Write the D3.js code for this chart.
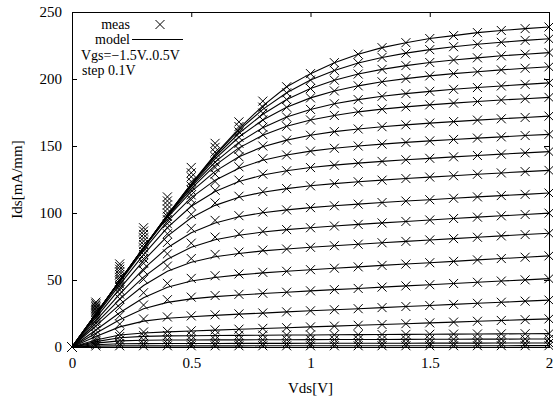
<!DOCTYPE html>
<html>
<head>
<meta charset="utf-8">
<script src="https://cdn.jsdelivr.net/npm/d3@7"></script>
<style>
  html, body { margin: 0; padding: 0; background: #fff; }
  svg text { font-family: "Liberation Serif", "Times New Roman", serif; font-size: 15px; fill: #000; }
  svg text.key { font-size: 14px; }
</style>
</head>
<body>
<svg id="chart" width="553" height="401"></svg>
<script>
// Vds sweep points (V)
const vds = [0, 0.1, 0.2, 0.3, 0.4, 0.5, 0.6, 0.7, 0.8, 0.9, 1.0, 1.1, 1.2, 1.3, 1.4, 1.5, 1.6, 1.7, 1.8, 1.9, 2.0];

// Vgs of each curve, top to bottom (V)
const vgs = [0.5, 0.4, 0.3, 0.2, 0.1, 0.0, -0.1, -0.2, -0.3, -0.4, -0.5, -0.6, -0.7, -0.8, -0.9, -1.0, -1.1, -1.2, -1.3, -1.4, -1.5];

// model Ids [mA/mm], one row per Vgs
const modelIds = [
  [0, 24.5, 49.3, 73.9, 98.4, 121.7, 143.7, 163, 180, 194.2, 204, 212.2, 218.5, 223.4, 227.1, 230.2, 232.4, 234.6, 236.2, 237.6, 238.8],
  [0, 24.6, 49.3, 74, 98.4, 121.6, 143, 161.8, 177.3, 189.7, 199.2, 206.4, 211.9, 216.1, 219.3, 221.9, 224.1, 225.9, 227.4, 228.8, 230],
  [0, 24.6, 49.4, 74.1, 98.3, 121.3, 141.9, 159.5, 173.7, 184.7, 192.9, 199.1, 203.7, 207.2, 210, 212.3, 214.2, 215.8, 217.3, 218.5, 219.7],
  [0, 24.6, 49.4, 74.1, 98.2, 120.6, 140.4, 156.7, 169.4, 178.9, 185.9, 191.1, 194.9, 197.9, 200.3, 202.3, 204, 205.4, 206.8, 208, 209.1],
  [0, 24.6, 49.4, 74.1, 97.9, 119.6, 138, 152.7, 163.7, 171.6, 177.3, 181.5, 184.6, 187.1, 189.1, 190.8, 192.3, 193.6, 194.8, 196, 197.1],
  [0, 24.6, 49.4, 74, 97.3, 118.2, 135.5, 148.6, 158, 164.7, 169.4, 172.8, 175.5, 177.5, 179.2, 180.7, 182, 183.2, 184.3, 185.3, 186.3],
  [0, 24.6, 49.4, 73.8, 96.5, 116, 131.1, 142, 149.4, 154.4, 158, 160.7, 162.7, 164.4, 165.8, 167.1, 168.2, 169.3, 170.3, 171.3, 172.3],
  [0, 24.1, 48.4, 72.1, 93.7, 111.5, 124.5, 133.4, 139.4, 143.3, 146.2, 148.3, 150, 151.4, 152.7, 153.8, 154.9, 155.9, 156.8, 157.8, 158.7],
  [0, 23.2, 46.5, 69, 89.1, 105, 116.1, 123.5, 128.3, 131.5, 133.9, 135.7, 137.2, 138.5, 139.7, 140.8, 141.9, 142.9, 143.9, 144.9, 145.8],
  [0, 21.7, 43.5, 64.5, 82.7, 96.4, 105.7, 111.7, 115.5, 118.2, 120.3, 121.9, 123.3, 124.5, 125.7, 126.8, 127.8, 128.9, 129.9, 130.9, 131.8],
  [0, 19.7, 39.5, 58.3, 74.1, 85.3, 92.6, 97.2, 100.2, 102.3, 104, 105.4, 106.6, 107.8, 108.9, 109.9, 111, 112, 113, 113.9, 114.9],
  [0, 17.7, 35.6, 52.2, 65.5, 74.5, 80, 83.4, 85.8, 87.6, 89, 90.3, 91.5, 92.6, 93.7, 94.8, 95.9, 96.9, 97.9, 98.9, 99.9],
  [0, 15.7, 31.6, 45.9, 56.6, 63.3, 67.3, 69.8, 71.7, 73.1, 74.4, 75.6, 76.7, 77.8, 78.8, 79.9, 80.9, 81.9, 82.9, 83.9, 84.9],
  [0, 12.7, 25.6, 36.8, 44.6, 49.2, 51.9, 53.8, 55.3, 56.5, 57.7, 58.8, 59.8, 60.9, 61.9, 62.9, 63.9, 65, 66, 67, 68],
  [0, 10.3, 20.4, 28.5, 33.3, 35.9, 37.6, 38.8, 39.9, 40.9, 41.9, 42.8, 43.7, 44.7, 45.6, 46.5, 47.4, 48.3, 49.2, 50.1, 51],
  [0, 7.8, 15, 19.3, 21.4, 22.6, 23.6, 24.5, 25.3, 26.2, 27, 27.8, 28.6, 29.4, 30.2, 31, 31.8, 32.6, 33.4, 34.2, 35],
  [0, 5.2, 9, 10.5, 11.3, 11.9, 12.6, 13.2, 13.8, 14.4, 15, 15.6, 16.2, 16.8, 17.4, 18, 18.6, 19.2, 19.8, 20.4, 21],
  [0, 4, 6.9, 7.9, 8.3, 8.4, 8.6, 8.7, 8.8, 8.9, 9, 9.1, 9.2, 9.3, 9.4, 9.5, 9.6, 9.7, 9.8, 9.9, 10],
  [0, 2.9, 4.6, 5, 5.2, 5.2, 5.3, 5.35, 5.4, 5.45, 5.5, 5.55, 5.6, 5.65, 5.7, 5.75, 5.8, 5.85, 5.9, 5.95, 6],
  [0, 1.7, 2.4, 2.55, 2.59, 2.62, 2.65, 2.67, 2.7, 2.72, 2.75, 2.77, 2.8, 2.82, 2.85, 2.87, 2.9, 2.92, 2.95, 2.97, 3],
  [0, 0.68, 0.81, 0.83, 0.84, 0.85, 0.86, 0.87, 0.88, 0.89, 0.9, 0.91, 0.92, 0.93, 0.94, 0.95, 0.96, 0.97, 0.98, 0.99, 1]
];

// measured Ids [mA/mm], one row per Vgs
const measIds = [
  [0, 33.5, 62, 89, 112, 134, 152, 168, 183.5, 194.2, 204, 212.2, 218.5, 223.4, 227.1, 230.2, 232.4, 234.6, 236.2, 237.6, 238.8],
  [0, 32.3, 60, 86.5, 109, 130, 149, 164.5, 179, 189.7, 199.2, 206.4, 211.9, 216.1, 219.3, 221.9, 224.1, 225.9, 227.4, 228.8, 230],
  [0, 31.1, 58, 84, 106, 127, 145.5, 160.5, 174.5, 184.7, 192.9, 199.1, 203.7, 207.2, 210, 212.3, 214.2, 215.8, 217.3, 218.5, 219.7],
  [0, 30, 56, 81.5, 103, 123.5, 142, 156.5, 169.5, 178.9, 185.9, 191.1, 194.9, 197.9, 200.3, 202.3, 204, 205.4, 206.8, 208, 209.1],
  [0, 28.9, 54, 79, 100, 120, 138, 152, 164, 171.6, 177.3, 181.5, 184.6, 187.1, 189.1, 190.8, 192.3, 193.6, 194.8, 196, 197.1],
  [0, 27.8, 52, 76.5, 97.5, 117, 134, 147.5, 158.5, 164.7, 169.4, 172.8, 175.5, 177.5, 179.2, 180.7, 182, 183.2, 184.3, 185.3, 186.3],
  [0, 26.7, 50.5, 74, 95, 113.5, 129, 142, 150, 154.4, 158, 160.7, 162.7, 164.4, 165.8, 167.1, 168.2, 169.3, 170.3, 171.3, 172.3],
  [0, 25.6, 49, 71.5, 92, 110, 123.5, 134.5, 140.5, 143.3, 146.2, 148.3, 150, 151.4, 152.7, 153.8, 154.9, 155.9, 156.8, 157.8, 158.7],
  [0, 24.4, 47, 69, 89, 105.5, 117, 124.5, 129, 131.5, 133.9, 135.7, 137.2, 138.5, 139.7, 140.8, 141.9, 142.9, 143.9, 144.9, 145.8],
  [0, 23, 45, 66, 84.5, 99, 107.5, 112.5, 116, 118.2, 120.3, 121.9, 123.3, 124.5, 125.7, 126.8, 127.8, 128.9, 129.9, 130.9, 131.8],
  [0, 21.5, 42.5, 62.5, 78, 88.5, 94.5, 98, 100.8, 102.3, 104, 105.4, 106.6, 107.8, 108.9, 109.9, 111, 112, 113, 113.9, 114.9],
  [0, 19.8, 39.5, 57, 69.5, 77.5, 82, 84.5, 86.3, 87.6, 89, 90.3, 91.5, 92.6, 93.7, 94.8, 95.9, 96.9, 97.9, 98.9, 99.9],
  [0, 18, 36, 50.5, 60.4, 66, 69.1, 70.8, 72.3, 73.1, 74.4, 75.6, 76.7, 77.8, 78.8, 79.9, 80.9, 81.9, 82.9, 83.9, 84.9],
  [0, 15.4, 29.5, 40.5, 47.5, 51.2, 53.2, 54.5, 55.7, 56.5, 57.7, 58.8, 59.8, 60.9, 61.9, 62.9, 63.9, 65, 66, 67, 68],
  [0, 12.5, 23.4, 31.3, 35.3, 37.2, 38.4, 39.3, 40.1, 40.9, 41.9, 42.8, 43.7, 44.7, 45.6, 46.5, 47.4, 48.3, 49.2, 50.1, 51],
  [0, 9.5, 17.1, 20.9, 22.4, 23.2, 24, 24.7, 25.4, 26.2, 27, 27.8, 28.6, 29.4, 30.2, 31, 31.8, 32.6, 33.4, 34.2, 35],
  [0, 6.3, 10.1, 11.2, 11.7, 12.1, 12.8, 13.3, 13.9, 14.4, 15, 15.6, 16.2, 16.8, 17.4, 18, 18.6, 19.2, 19.8, 20.4, 21],
  [0, 4.8, 7.8, 8.5, 8.6, 8.6, 8.7, 8.8, 8.9, 8.9, 9, 9.1, 9.2, 9.3, 9.4, 9.5, 9.6, 9.7, 9.8, 9.9, 10],
  [0, 3.5, 5.1, 5.3, 5.4, 5.3, 5.4, 5.4, 5.4, 5.45, 5.5, 5.55, 5.6, 5.65, 5.7, 5.75, 5.8, 5.85, 5.9, 5.95, 6],
  [0, 2, 2.6, 2.7, 2.7, 2.7, 2.7, 2.7, 2.7, 2.72, 2.75, 2.77, 2.8, 2.82, 2.85, 2.87, 2.9, 2.92, 2.95, 2.97, 3],
  [0, 0.8, 0.9, 0.9, 0.9, 0.9, 0.9, 0.9, 0.9, 0.89, 0.9, 0.91, 0.92, 0.93, 0.94, 0.95, 0.96, 0.97, 0.98, 0.99, 1]
];

const xTicks = [0, 0.5, 1, 1.5, 2];
const xTickLabels = ['0', '0.5', '1', '1.5', '2'];
const yTicks = [0, 50, 100, 150, 200, 250];

// Plot frame
const plotLeft = 72, plotRight = 549, plotTop = 12, plotBottom = 347;
const tickLen = 5;

const svg = d3.select('#chart');

const x = d3.scaleLinear().domain([0, 2]).range([plotLeft, plotRight]);
const y = d3.scaleLinear().domain([0, 250]).range([plotBottom, plotTop]);

// Axes (gnuplot style: inward ticks, mirrored)
const styleAxis = g => {
  g.select('.domain').remove();
  g.selectAll('.tick line').attr('stroke', '#000').attr('stroke-width', 1);
  g.selectAll('.tick text').attr('font-family', null).attr('font-size', null);
};

svg.append('g')
  .attr('transform', `translate(0,${plotBottom})`)
  .call(d3.axisBottom(x).tickValues(xTicks).tickSize(-tickLen).tickPadding(10)
    .tickFormat((d, i) => xTickLabels[i]))
  .call(styleAxis);

svg.append('g')
  .attr('transform', `translate(0,${plotTop})`)
  .call(d3.axisTop(x).tickValues(xTicks).tickSize(-tickLen).tickFormat(''))
  .call(styleAxis);

svg.append('g')
  .attr('transform', `translate(${plotLeft},0)`)
  .call(d3.axisLeft(y).tickValues(yTicks).tickSize(-tickLen).tickPadding(10))
  .call(styleAxis);

svg.append('g')
  .attr('transform', `translate(${plotRight},0)`)
  .call(d3.axisRight(y).tickValues(yTicks).tickSize(-tickLen).tickFormat(''))
  .call(styleAxis);

// Border
svg.append('rect')
  .attr('x', plotLeft + 0.5).attr('y', plotTop + 0.5)
  .attr('width', plotRight - plotLeft).attr('height', plotBottom - plotTop)
  .attr('fill', 'none').attr('stroke', '#000').attr('stroke-width', 1);

// Axis titles
svg.append('text')
  .attr('x', (plotLeft + plotRight) / 2).attr('y', 393)
  .attr('text-anchor', 'middle')
  .text('Vds[V]');

svg.append('text')
  .attr('transform', `translate(22,${(plotTop + plotBottom) / 2}) rotate(-90)`)
  .attr('text-anchor', 'middle')
  .text('Ids[mA/mm]');

// Model lines
const line = d3.line()
  .x((d, i) => x(vds[i]))
  .y(d => y(d));

svg.append('g').selectAll('path')
  .data(modelIds).join('path')
  .attr('d', line)
  .attr('fill', 'none')
  .attr('stroke', '#000')
  .attr('stroke-width', 1.1);

// Measured points (X marks)
const xMark = 'M-4.5,-4.5L4.5,4.5M-4.5,4.5L4.5,-4.5';
const measPts = [];
measIds.forEach((row, k) => row.forEach((v, i) => measPts.push({ vgs: vgs[k], vds: vds[i], ids: v })));

svg.append('g').selectAll('path')
  .data(measPts).join('path')
  .attr('transform', d => `translate(${x(d.vds)},${y(d.ids)})`)
  .attr('d', xMark)
  .attr('fill', 'none')
  .attr('stroke', '#000')
  .attr('stroke-width', 1);

// Key (gnuplot puts these lines very close together)
const key = svg.append('g');
key.append('text').attr('class', 'key').attr('x', 130).attr('y', 28.5).attr('text-anchor', 'end').text('meas');
key.append('path').attr('transform', 'translate(160,24.5)').attr('d', xMark)
  .attr('fill', 'none').attr('stroke', '#000');
key.append('text').attr('class', 'key').attr('x', 130).attr('y', 44).attr('text-anchor', 'end').text('model');
key.append('line').attr('x1', 132).attr('x2', 183).attr('y1', 39.5).attr('y2', 39.5)
  .attr('stroke', '#000').attr('stroke-width', 1.1);
key.append('text').attr('class', 'key').attr('x', 81).attr('y', 59.5).text('Vgs=\u22121.5V..0.5V');
key.append('text').attr('class', 'key').attr('x', 82).attr('y', 75).text('step 0.1V');
</script>
</body>
</html>
